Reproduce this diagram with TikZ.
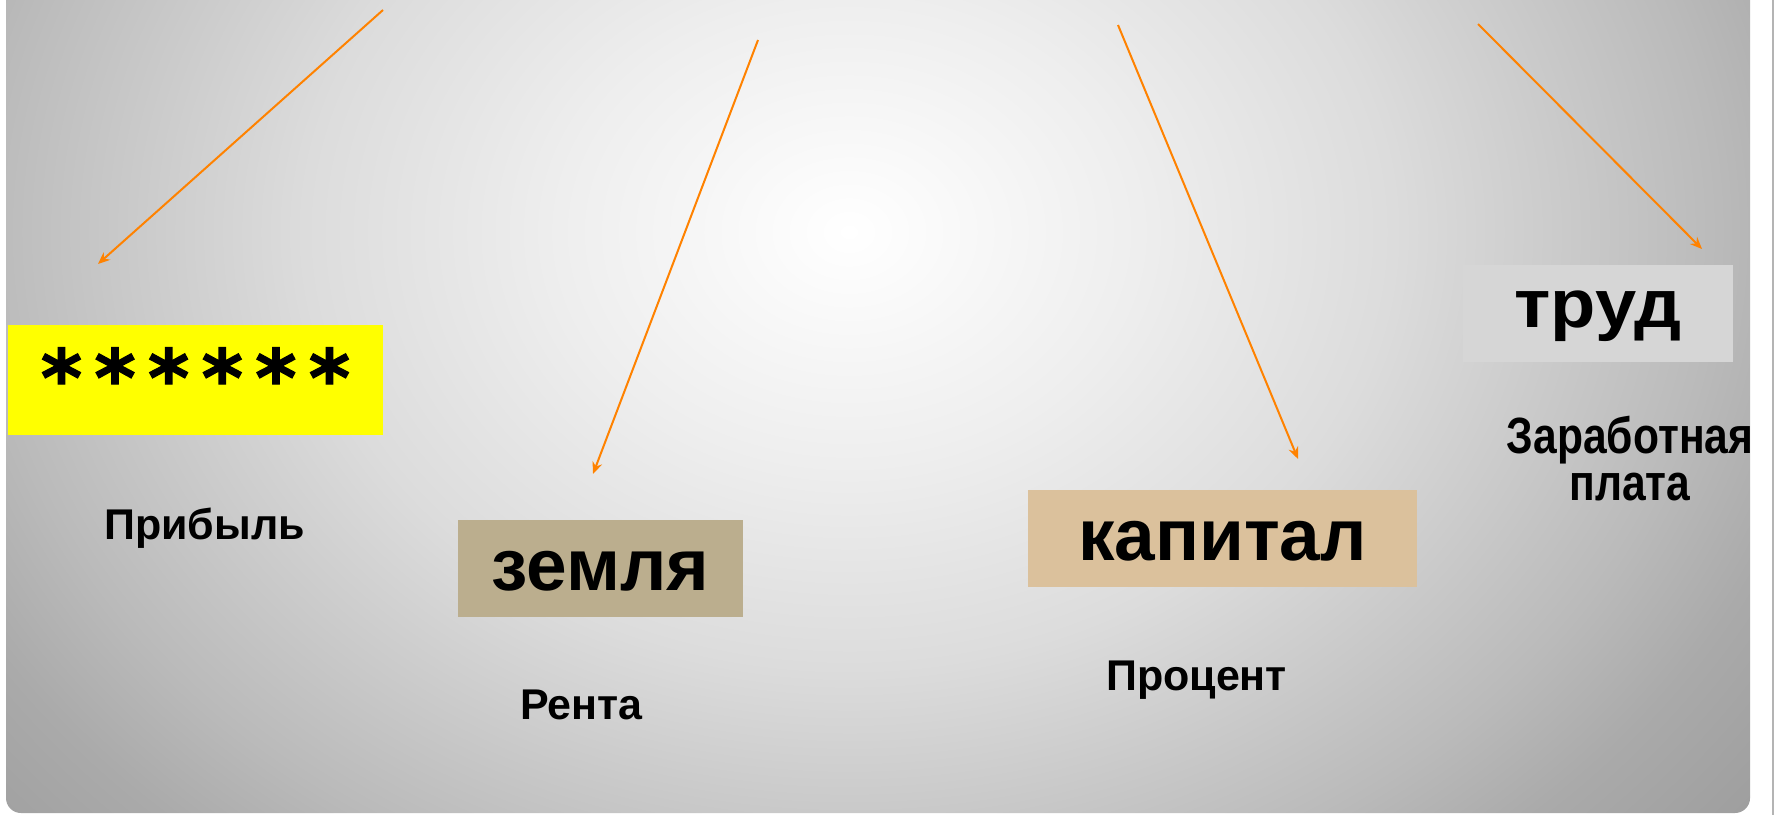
\documentclass[tikz,border=0pt]{standalone}
\usepackage{fontspec}
\setmainfont{Liberation Sans}
\newfontfamily\astfont{DejaVu Sans}
\usetikzlibrary{arrows.meta}

\definecolor{arrowor}{RGB}{255,130,0}
\definecolor{zemlyac}{RGB}{187,174,142}
\definecolor{kapitalc}{RGB}{219,193,156}
\definecolor{trudc}{RGB}{214,214,214}
\definecolor{yellowc}{RGB}{255,255,0}
\definecolor{gA}{RGB}{238,238,238}
\definecolor{gB}{RGB}{220,220,220}
\definecolor{gC}{RGB}{186,186,186}
\definecolor{gD}{RGB}{170,170,170}
\definecolor{gE}{RGB}{159,159,159}
\definecolor{gF}{RGB}{150,150,150}
\definecolor{scrollc}{RGB}{180,180,180}

\pgfdeclareradialshading{bgshade}{\pgfpoint{0bp}{0bp}}{color(0bp)=(white); color(5.58bp)=(gA); color(10.48bp)=(gB); color(16.73bp)=(gC); color(19.23bp)=(gD); color(22.1bp)=(gE); color(25bp)=(gF); color(50bp)=(gF)}

\tikzset{
  boxstyle/.style={inner sep=0pt, outer sep=0pt, font=\bfseries\fontsize{36.5}{36.5}\selectfont},
  lbl/.style={font=\bfseries\fontsize{21.5}{16.5}\selectfont, anchor=base, inner sep=0pt},
  conn/.style={draw=arrowor, line width=1pt, -{Stealth[length=6pt,width=5pt,inset=2pt]}},
}

\begin{document}
\begin{tikzpicture}[x=0.5pt,y=-0.5pt]
\useasboundingbox (0,0) rectangle (1775,815);
\fill[white] (0,0) rectangle (1775,815);
\begin{scope}
  \clip (0,0) rectangle (1775,815);
  \clip[rounded corners=7.5pt] (6,-30) rectangle (1750,813);
  \path[shading=bgshade] (-451,-808) rectangle (2149,1272);
\end{scope}
\draw[scrollc, line width=1pt] (1773,0) -- (1773,815);

% boxes
\node[boxstyle, fill=yellowc, minimum width=187.5pt, text height=40.5pt, text depth=14.5pt,
      font=\astfont\bfseries\fontsize{39.4}{39.4}\selectfont\addfontfeature{FakeBold=1.5}] (ast) at (195.5,380)
      {*\kern6.2pt*\kern6.2pt*\kern6.2pt*\kern6.2pt*\kern6.2pt*};
\node[boxstyle, fill=zemlyac, minimum width=142.5pt, text height=35pt, text depth=13.5pt] (zem) at (600.5,568.5) {земля};
\node[boxstyle, fill=kapitalc, minimum width=194.5pt, text height=35pt, text depth=13.5pt] (kap) at (1222.5,538.5) {капитал};
\node[boxstyle, fill=trudc, minimum width=135pt, text height=31pt, text depth=17.5pt,
      font=\bfseries\fontsize{34}{34}\selectfont\addfontfeature{FakeStretch=1.09}] (trud) at (1598,313.5) {труд};

% labels
\node[lbl] (prib) at (204.5,539) {Прибыль};
\node[lbl] (renta) at (581.5,719) {Рента};
\node[lbl] (proc) at (1196.5,690) {Процент};
\node[lbl, align=center, font=\bfseries\fontsize{25.5}{23.5}\selectfont\addfontfeature{FakeStretch=0.835}] (zarp) at (1630,500) {Заработная\\плата};

% arrows
\coordinate (a1s) at (383,10);
\coordinate (a1e) at (98,264);
\coordinate (a2s) at (758,40);
\coordinate (a2e) at (593,474);
\coordinate (a3s) at (1118,25);
\coordinate (a3e) at (1298,459);
\coordinate (a4s) at (1478,24);
\coordinate (a4e) at (1702,249);
\draw[conn] (a1s) -- (a1e);
\draw[conn] (a2s) -- (a2e);
\draw[conn] (a3s) -- (a3e);
\draw[conn] (a4s) -- (a4e);
\end{tikzpicture}
\end{document}
